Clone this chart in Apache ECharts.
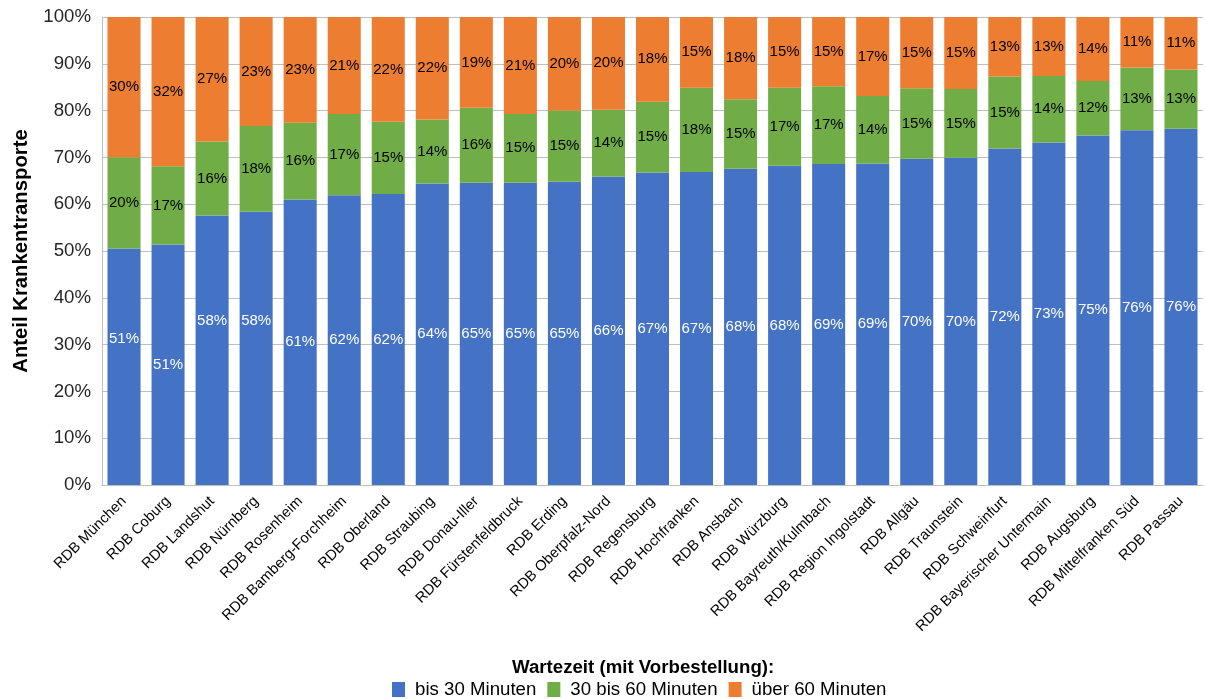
<!DOCTYPE html>
<html>
<head>
<meta charset="utf-8">
<script src="https://cdn.jsdelivr.net/npm/echarts@6/dist/echarts.min.js"></script>
<style>
html,body{margin:0;padding:0;background:#fff;}
#chart{width:1205px;height:699px;}
</style>
</head>
<body>
<div id="chart"></div>
<script>
const categories = ["RDB München","RDB Coburg","RDB Landshut","RDB Nürnberg","RDB Rosenheim","RDB Bamberg-Forchheim","RDB Oberland","RDB Straubing","RDB Donau-Iller","RDB Fürstenfeldbruck","RDB Erding","RDB Oberpfalz-Nord","RDB Regensburg","RDB Hochfranken","RDB Ansbach","RDB Würzburg","RDB Bayreuth/Kulmbach","RDB Region Ingolstadt","RDB Allgäu","RDB Traunstein","RDB Schweinfurt","RDB Bayerischer Untermain","RDB Augsburg","RDB Mittelfranken Süd","RDB Passau"];
const bis30 = [50.55,51.4,57.6,58.4,61.0,61.9,62.2,64.4,64.6,64.6,64.8,65.9,66.8,66.9,67.6,68.2,68.6,68.7,69.7,69.9,71.9,73.2,74.7,75.8,76.1];
const bis60 = [19.5,16.7,15.8,18.3,16.4,17.4,15.4,13.7,16.0,14.7,15.2,14.3,15.1,18.0,14.8,16.7,16.6,14.4,15.1,14.7,15.4,14.2,11.6,13.4,12.7];
const ueber60 = [29.95,31.9,26.6,23.3,22.6,20.7,22.4,21.9,19.4,20.7,20.0,19.8,18.1,15.1,17.6,15.1,14.8,16.9,15.2,15.4,12.7,12.6,13.7,10.8,11.2];
const seriesNames = ["bis 30 Minuten","30 bis 60 Minuten","über 60 Minuten"];
const yTicks = [0,10,20,30,40,50,60,70,80,90,100];

const colors = ["#4472C4","#70AD47","#ED7D31"];
const FONT = "Liberation Sans, Arial, sans-serif";
// labels that were shifted upward in the original
const blueLabelShift = {0:-28, 2:-29, 3:-27};

function mkSeries(name, vals, color, labelColor, shifts){
  return {
    name: name,
    type: 'bar',
    stack: 'total',
    barCategoryGap: '25%',
    itemStyle: {color: color},
    label: {
      show: true,
      position: 'inside',
      color: labelColor,
      fontFamily: FONT,
      fontSize: 15,
      formatter: p => Math.round(p.value) + '%'
    },
    data: vals.map((v,i) => {
      if (shifts && shifts[i] !== undefined) {
        return {value: v, label: {offset: [0, shifts[i]]}};
      }
      return v;
    })
  };
}

const chart = echarts.init(document.getElementById('chart'), null, {renderer:'canvas'});
chart.setOption({
  animation: false,
  color: colors,
  title: {
    text: 'Wartezeit (mit Vorbestellung):',
    left: 507,
    top: 653,
    textStyle: {fontFamily: FONT, fontSize: 18.67, fontWeight: 'bold', color: '#000'}
  },
  legend: {
    bottom: -5,
    left: 387,
    itemWidth: 13,
    itemHeight: 15,
    itemGap: 11,
    icon: 'rect',
    textStyle: {fontFamily: FONT, fontSize: 18.67, color: '#000', padding: [0,0,0,5]},
    data: seriesNames
  },
  grid: {left: 102, right: 2, top: 17, bottom: 214, containLabel: false},
  xAxis: {
    type: 'category',
    data: categories,
    axisLine: {lineStyle: {color: '#bfbfbf'}},
    axisTick: {show: false},
    axisLabel: {
      interval: 0,
      rotate: 45,
      margin: 14,
      fontFamily: FONT,
      fontSize: 14.67,
      color: '#000'
    }
  },
  yAxis: {
    type: 'value',
    min: yTicks[0],
    max: yTicks[yTicks.length-1],
    interval: 10,
    name: 'Anteil Krankentransporte',
    nameLocation: 'middle',
    nameGap: 71,
    nameTextStyle: {fontFamily: FONT, fontSize: 20.3, fontWeight: 'bold', color: '#000'},
    axisLine: {show: true, lineStyle: {color: '#bfbfbf'}},
    axisTick: {show: false},
    splitLine: {lineStyle: {color: '#bfbfbf'}},
    axisLabel: {
      formatter: '{value}%',
      fontFamily: FONT,
      fontSize: 18.67,
      color: '#262626',
      margin: 11
    }
  },
  series: [
    mkSeries(seriesNames[0], bis30, colors[0], '#fff', blueLabelShift),
    mkSeries(seriesNames[1], bis60, colors[1], '#000', null),
    mkSeries(seriesNames[2], ueber60, colors[2], '#000', null)
  ]
});
</script>
</body>
</html>
